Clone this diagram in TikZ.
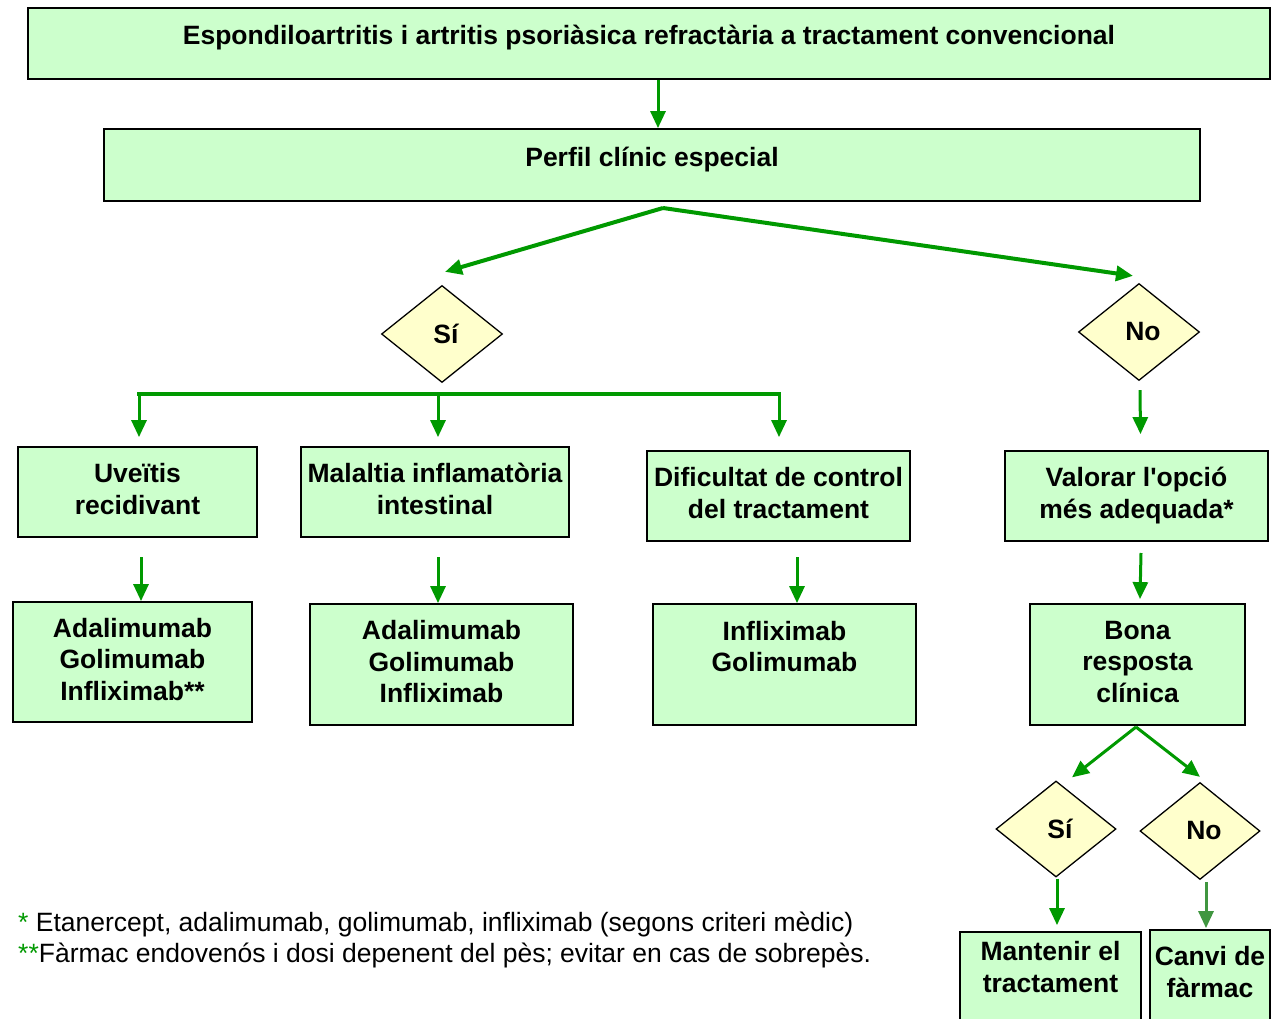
\documentclass[tikz,border=0pt]{standalone}
\usepackage{fontspec}
\setmainfont{Liberation Sans}
\usetikzlibrary{calc,shapes.geometric,arrows.meta}
\definecolor{boxgreen}{RGB}{204,255,204}
\definecolor{condyellow}{RGB}{255,255,204}
\definecolor{flowgreen}{RGB}{0,153,0}
\definecolor{flowpale}{RGB}{64,150,64}
\newcommand{\boxfont}{\fontsize{26.5}{31.5}\selectfont\bfseries}
\newcommand{\notefont}{\fontsize{26.5}{31}\selectfont}
\tikzset{
	box/.style={draw=black, line width=1.8pt, fill=boxgreen, inner sep=0pt, align=center, text depth=6pt, font=\boxfont},
	cond/.style={diamond, draw=black, line width=1.3pt, fill=condyellow, inner sep=0pt, minimum width=121pt, minimum height=97pt, font=\boxfont},
	txt/.style={inner sep=0pt, align=center, font=\boxfont},
	flow/.style={draw=flowgreen, line width=3pt, -{Triangle[length=17pt,width=15pt]}}
}

\begin{document}
\begin{tikzpicture}[x=1pt, y=-1pt]
			%%%%% START %%%%%
			
			\useasboundingbox (0,0) rectangle (1272,1019);
			\clip (0,0) rectangle (1272,1019);
			
			\node[box, minimum width=1242pt, minimum height=71pt] (refr) at (649,43.5) {};
			\node[txt] (refr-t) at (649,38) {Espondiloartritis i artritis psoriàsica refractària a tractament convencional};
			\node[box, minimum width=1096pt, minimum height=72pt] (perfil) at (652,165) {};
			\node[txt] (perfil-t) at (652,160) {Perfil clínic especial};
			\draw[flow] ([xshift=9pt]refr.south) -- ([xshift=6pt]perfil.north);
			
			\node[cond] (si) at (442,334) {\kern8pt Sí};
			\node[cond] (no) at (1139,332) {\kern8pt No};
			\coordinate (split) at (663,208);
			\draw[flow, line width=4pt] (split) -- ($(si.north)+(3,-13)$);
			\draw[flow, line width=4pt] (split) -- ($(no.north)+(-6,-7)$);
			
			\node[box, minimum width=239pt, minimum height=90pt] (uve) at (137.5,492) {Uveïtis\\recidivant};
			\node[box, minimum width=268pt, minimum height=90pt] (malaltia) at (435,492) {Malaltia inflamatòria\\intestinal};
			\node[box, minimum width=263pt, minimum height=90pt] (dific) at (778.5,496) {Dificultat de control\\del tractament};
			\node[box, minimum width=263pt, minimum height=90pt] (valorar) at (1136.5,496) {Valorar l\textquotesingle opció\\més adequada*};
			
			\coordinate (bar-l) at (139,394);
			\coordinate (bar-m) at (438,394);
			\coordinate (bar-r) at (779,394);
			\draw[flowgreen, line width=4pt, line cap=rect] (bar-l) -- (bar-r);
			\draw[flow] (bar-l) -- ($(uve.north -| bar-l)+(0,-9)$);
			\draw[flow] (bar-m) -- ($(malaltia.north -| bar-m)+(0,-9)$);
			\draw[flow] (bar-r) -- ($(dific.north -| bar-r)+(0,-13)$);
			\draw[flow] ($(no.south)+(1,9)$) -- ($(valorar.north)+(4,-16)$);
			
			\node[box, minimum width=239pt, minimum height=120pt] (adal1) at (132.5,662) {Adalimumab\\Golimumab\\Infliximab**};
			\node[box, minimum width=263pt, minimum height=121pt] (adal2) at (441.5,664.5) {Adalimumab\\Golimumab\\Infliximab};
			\node[box, minimum width=263pt, minimum height=121pt] (inflix) at (784.5,664.5) {};
			\node[txt] (inflix-t) at (784.5,646.5) {Infliximab\\Golimumab};
			\node[box, minimum width=215pt, minimum height=121pt] (bona) at (1137.5,664.5) {Bona\\resposta\\clínica};
			
			\coordinate (u-a) at (141,557);
			\coordinate (m-a) at (438,557);
			\coordinate (d-a) at (797,557);
			\coordinate (v-a) at (1141,553);
			\draw[flow] (u-a) -- (u-a |- adal1.north);
			\draw[flow] (m-a) -- (m-a |- adal2.north);
			\draw[flow] (d-a) -- (d-a |- inflix.north);
			\draw[flow] (v-a) -- ($(v-a |- bona.north)+(-1,-4)$);
			
			\node[cond, minimum width=120pt, minimum height=96pt] (si2) at (1056,829) {\kern8pt Sí};
			\node[cond, minimum width=120pt, minimum height=97pt] (no2) at (1200,831) {\kern8pt No};
			\coordinate (bsplit) at (1136,727);
			\draw[flow] (bsplit) -- ($(si2.north)+(16,-3)$);
			\draw[flow] (bsplit) -- ($(no2.north)+(0,-5)$);
			
			\node[box, minimum width=181pt, minimum height=108pt] (mant) at (1050.5,986) {};
			\node[txt] (mant-t) at (1050.5,967) {Mantenir el\\tractament};
			\node[box, minimum width=120pt, minimum height=110pt] (canvi) at (1210,985) {};
			\node[txt] (canvi-t) at (1210,972) {Canvi de\\fàrmac};
			\draw[flow] ($(si2.south)+(1,1)$) -- ($(mant.north)+(6.5,-6)$);
			\draw[flow, draw=flowpale] ($(no2.south)+(6,2)$) -- ($(canvi.north -| no2.south)+(6,-1)$);
			
			\node[anchor=west, inner sep=0pt, align=left, font=\notefont] (notes) at (18,939.5) {{\color{flowgreen}*} Etanercept, adalimumab, golimumab, infliximab (segons criteri mèdic)\\{\color{flowgreen}**}Fàrmac endovenós i dosi depenent del pès; evitar en cas de sobrepès.};
			
			%%%%% END %%%%%
\end{tikzpicture}
\end{document}
